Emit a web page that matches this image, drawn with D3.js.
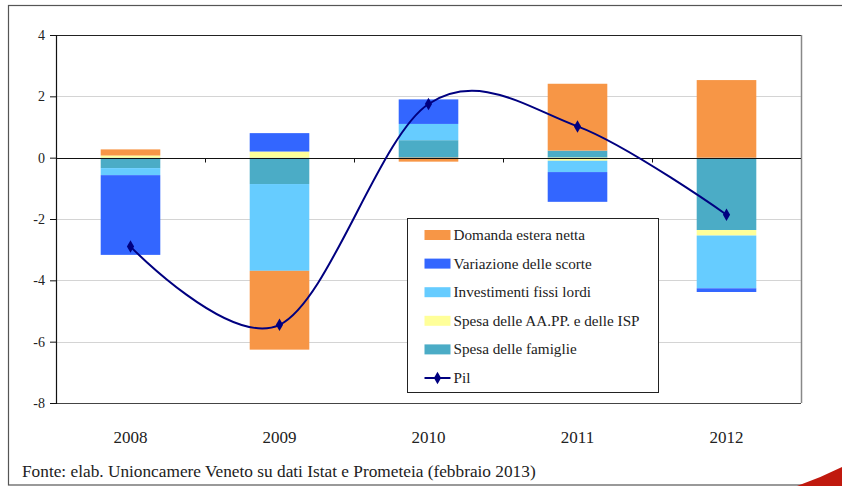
<!DOCTYPE html>
<html lang="it">
<head>
<meta charset="utf-8">
<title>Contributi alla crescita del Pil</title>
<style>
  body { margin: 0; background: #fff; }
  svg { display: block; font-family: "Liberation Serif", "DejaVu Serif", serif; }
</style>
</head>
<body>
<svg id="chart" width="842" height="486"></svg>
<script src="https://d3js.org/d3.v7.min.js"></script>
<script>
// dati
var anni = ['2008', '2009', '2010', '2011', '2012'];
var famiglie    = [-0.34, -0.86,  0.57,  0.23, -2.36];
var aapp        = [ 0.07,  0.20,  0.00, -0.10, -0.18];
var investimenti= [-0.23, -2.83,  0.53, -0.37, -1.72];
var scorte      = [-2.60,  0.60,  0.80, -0.97, -0.12];
var estera      = [ 0.20, -2.57, -0.13,  2.18,  2.53];
var pil         = [-2.90, -5.45,  1.75,  1.02, -1.86];
var yTicks = [-8, -6, -4, -2, 0, 2, 4];

var serie = [
  {key: 'famiglie', nome: 'Spesa delle famiglie', valori: famiglie, colore: '#4BACC6'},
  {key: 'aapp', nome: 'Spesa delle AA.PP. e delle ISP', valori: aapp, colore: '#FFFF99'},
  {key: 'investimenti', nome: 'Investimenti fissi lordi', valori: investimenti, colore: '#66CCFF'},
  {key: 'scorte', nome: 'Variazione delle scorte', valori: scorte, colore: '#3366FF'},
  {key: 'estera', nome: 'Domanda estera netta', valori: estera, colore: '#F79646'}
];

var svg = d3.select('#chart');
var plot = {left: 56, top: 35, right: 801, bottom: 403};

// cornice esterna
svg.append('rect')
  .attr('x', 8.5).attr('y', 5.5)
  .attr('width', 860).attr('height', 479.5)
  .attr('fill', 'none').attr('stroke', '#555').attr('stroke-width', 1.2);

// tabella per d3.stack
var tabella = anni.map(function(a, i) {
  var r = {anno: a};
  serie.forEach(function(s) { r[s.key] = s.valori[i]; });
  return r;
});
var stackData = d3.stack()
  .keys(serie.map(function(s) { return s.key; }))
  .offset(d3.stackOffsetDiverging)(tabella);

var x = d3.scaleBand().domain(anni).range([plot.left, plot.right]).paddingInner(0.6).paddingOuter(0.3);
var xc = function(a) { return x(a) + x.bandwidth() / 2; };
var y = d3.scaleLinear().domain([-8, 4]).range([plot.bottom, plot.top]);

// griglia
svg.append('g').selectAll('line')
  .data(yTicks.filter(function(t) { return t !== 0 && t !== -8 && t !== 4; }))
  .enter().append('line')
  .attr('x1', plot.left).attr('x2', plot.right)
  .attr('y1', function(d) { return Math.round(y(d)) + 0.5; })
  .attr('y2', function(d) { return Math.round(y(d)) + 0.5; })
  .attr('stroke', '#d4d4d4').attr('stroke-width', 1.2);

// bordo area del grafico
svg.append('line').attr('x1', plot.left).attr('x2', plot.right)
  .attr('y1', plot.top + 0.5).attr('y2', plot.top + 0.5).attr('stroke', '#222');
svg.append('line').attr('x1', plot.right + 0.5).attr('x2', plot.right + 0.5)
  .attr('y1', plot.top).attr('y2', plot.bottom).attr('stroke', '#888').attr('stroke-width', 1.5);
svg.append('line').attr('x1', plot.left).attr('x2', plot.right)
  .attr('y1', plot.bottom + 0.5).attr('y2', plot.bottom + 0.5).attr('stroke', '#444');

// barre
svg.append('g').selectAll('g')
  .data(stackData).enter().append('g')
  .attr('fill', function(d, i) { return serie[i].colore; })
  .selectAll('rect')
  .data(function(d) { return d; })
  .enter().append('rect')
  .attr('x', function(d) { return x(d.data.anno); })
  .attr('width', x.bandwidth())
  .attr('y', function(d) { return y(Math.max(d[0], d[1])); })
  .attr('height', function(d) { return Math.abs(y(d[0]) - y(d[1])); });

// asse y
var asseY = svg.append('g')
  .attr('transform', 'translate(' + plot.left + ',0)')
  .call(d3.axisLeft(y).tickValues(yTicks).tickSize(6).tickPadding(5)
    .tickFormat(function(d) { return String(d); }));
asseY.select('.domain').attr('stroke', '#111').attr('stroke-width', 1.2);
asseY.selectAll('.tick line').attr('stroke', '#111');
asseY.selectAll('text').attr('font-size', 14).attr('fill', '#222')
  .attr('font-family', '"Liberation Serif", serif');

// linea dello zero con tacche di categoria
var asseX = svg.append('g')
  .attr('transform', 'translate(0,' + (Math.round(y(0)) + 0.5) + ')');
asseX.append('line').attr('x1', plot.left).attr('x2', plot.right).attr('stroke', '#111').attr('stroke-width', 1.2);
asseX.selectAll('.tacca')
  .data(anni.slice(1)).enter().append('line')
  .attr('class', 'tacca')
  .attr('x1', function(d) { return Math.round(x(d) - x.step() * x.paddingInner() / 2) + 0.5; })
  .attr('x2', function(d) { return Math.round(x(d) - x.step() * x.paddingInner() / 2) + 0.5; })
  .attr('y1', 0).attr('y2', 4).attr('stroke', '#111');

// etichette anni
svg.append('g').selectAll('text')
  .data(anni).enter().append('text')
  .attr('x', xc).attr('y', 443)
  .attr('text-anchor', 'middle').attr('font-size', 17).attr('fill', '#222')
  .text(function(d) { return d; });

// linea del Pil (smussata)
var linea = d3.line()
  .x(function(d, i) { return xc(anni[i]); })
  .y(function(d) { return y(d); })
  .curve(d3.curveCardinal.tension(0));
svg.append('path').datum(pil)
  .attr('d', linea).attr('fill', 'none')
  .attr('stroke', '#000080').attr('stroke-width', 2);
var rombo = d3.symbol().type(d3.symbolDiamond).size(45);
svg.append('g').selectAll('path')
  .data(pil).enter().append('path')
  .attr('d', rombo)
  .attr('transform', function(d, i) { return 'translate(' + xc(anni[i]) + ',' + y(d) + ')'; })
  .attr('fill', '#000080');

// legenda
var leg = svg.append('g').attr('transform', 'translate(407.5,218.5)');
leg.append('rect').attr('width', 251).attr('height', 174)
  .attr('fill', '#fff').attr('stroke', '#222').attr('stroke-width', 1);
var voci = serie.slice().reverse().concat([{nome: 'Pil', linea: true}]);
var riga = leg.selectAll('g').data(voci).enter().append('g')
  .attr('transform', function(d, i) { return 'translate(17,' + (16.5 + i * 28.6) + ')'; });
riga.filter(function(d) { return !d.linea; }).append('rect')
  .attr('x', 0).attr('y', -5).attr('width', 26).attr('height', 10)
  .attr('fill', function(d) { return d.colore; });
riga.filter(function(d) { return d.linea; }).append('line')
  .attr('x1', 0).attr('x2', 26).attr('y1', 0).attr('y2', 0)
  .attr('stroke', '#000080').attr('stroke-width', 2);
riga.filter(function(d) { return d.linea; }).append('path')
  .attr('d', rombo).attr('transform', 'translate(13,0)').attr('fill', '#000080');
riga.append('text')
  .attr('x', 29).attr('y', 5)
  .attr('font-size', 15.2).attr('fill', '#222')
  .text(function(d) { return d.nome; });

// fonte
svg.append('text')
  .attr('x', 22).attr('y', 477)
  .attr('font-size', 17.3).attr('fill', '#222')
  .text('Fonte: elab. Unioncamere Veneto su dati Istat e Prometeia (febbraio 2013)');

// decorazione rossa in basso a destra
svg.append('path')
  .attr('d', 'M797,486 Q820,478 842,467 L842,486 Z')
  .attr('fill', '#C0190E');
</script>
</body>
</html>
